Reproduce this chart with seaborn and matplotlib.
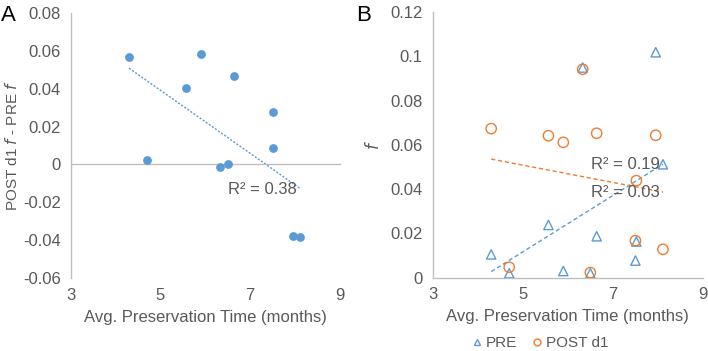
import numpy as np
import pandas as pd
import matplotlib
matplotlib.use("Agg")
import matplotlib.pyplot as plt
import seaborn as sns
from matplotlib.lines import Line2D

# 데이터
months = [4.30, 4.70, 5.57, 5.90, 6.33, 6.50, 6.64, 7.52, 7.50, 7.95, 8.11]
pre_f = [0.0105, 0.0020, 0.0238, 0.0030, 0.0949, 0.0020, 0.0187, 0.0163, 0.0077, 0.1018, 0.0512]
post_f = [0.0673, 0.0047, 0.0641, 0.0611, 0.0941, 0.0023, 0.0652, 0.0438, 0.0167, 0.0643, 0.0128]
diff_f = [0.0570, 0.0024, 0.0402, 0.0582, -0.0011, 0.0003, 0.0466, 0.0276, 0.0089, -0.0376, -0.0385]
r2_a = ["R² = 0.38"]
r2_b = ["R² = 0.19", "R² = 0.03"]

BLUE = "#5B9BD5"
ORANGE = "#ED7D31"
GRAY = "#BFBFBF"
TXT = "#595959"

sns.set_style("white")
plt.rcParams["font.family"] = ["Liberation Sans", "DejaVu Sans"]
plt.rcParams["font.size"] = 12

df_a = pd.DataFrame({"months": months, "diff": diff_f})
df_b = pd.DataFrame({"months": months, "PRE": pre_f, "POST d1": post_f})

fig = plt.figure(figsize=(7.08, 3.51), dpi=100)
ax_a = fig.add_axes([0.100, 0.208, 0.380, 0.755])
ax_b = fig.add_axes([0.611, 0.209, 0.382, 0.757])


def style_axis(ax):
    for s in ["top", "right"]:
        ax.spines[s].set_visible(False)
    for s in ["left", "bottom"]:
        ax.spines[s].set_color(GRAY)
        ax.spines[s].set_linewidth(1)
    ax.tick_params(axis="both", colors=GRAY, labelcolor=TXT, labelsize=12,
                   length=4, width=1, direction="out", pad=3)
    ax.set_xlim(3, 9)
    ax.set_xticks([3, 5, 7, 9])
    ax.set_xlabel("Avg. Preservation Time (months)", color=TXT, fontsize=12, labelpad=5)


# ---- Panel A ----
sns.scatterplot(data=df_a, x="months", y="diff", ax=ax_a, color=BLUE, s=40,
                edgecolor=BLUE, linewidth=0, zorder=3)
sns.regplot(data=df_a, x="months", y="diff", ax=ax_a, scatter=False, ci=None,
            color=BLUE, line_kws={"lw": 1, "ls": (0, (1.5, 1.2))})
style_axis(ax_a)
ax_a.set_ylim(-0.06, 0.08)
ax_a.set_yticks(np.arange(-0.06, 0.081, 0.02))
ax_a.set_yticklabels(["-0.06", "-0.04", "-0.02", "0", "0.02", "0.04", "0.06", "0.08"])
ax_a.spines["bottom"].set_position(("data", 0))
ax_a.tick_params(axis="x", labelbottom=False)
sec = ax_a.secondary_xaxis("bottom")
sec.set_xticks([3, 5, 7, 9])
sec.spines["bottom"].set_visible(False)
sec.tick_params(axis="x", length=0, labelcolor=TXT, labelsize=12, pad=7)
ax_a.set_xlabel("")
sec.set_xlabel("Avg. Preservation Time (months)", color=TXT, fontsize=12, labelpad=5)
ax_a.set_ylabel("POST d1 $\\mathit{f}$ - PRE $\\mathit{f}$", color=TXT, fontsize=11, labelpad=2)
ax_a.text(6.51, -0.0132, r2_a[0], color=TXT, fontsize=12, va="center", ha="left")

# ---- Panel B ----
sns.scatterplot(data=df_b, x="months", y="PRE", ax=ax_b, marker="^", s=45,
                facecolor="none", edgecolor=BLUE, linewidth=1, zorder=3)
sns.scatterplot(data=df_b, x="months", y="POST d1", ax=ax_b, marker="o", s=55,
                facecolor="none", edgecolor=ORANGE, linewidth=1, zorder=3)
sns.regplot(data=df_b, x="months", y="PRE", ax=ax_b, scatter=False, ci=None,
            color=BLUE, line_kws={"lw": 1, "ls": (0, (3, 2))})
sns.regplot(data=df_b, x="months", y="POST d1", ax=ax_b, scatter=False, ci=None,
            color=ORANGE, line_kws={"lw": 1, "ls": (0, (3, 2))})
style_axis(ax_b)
ax_b.set_ylim(0, 0.12)
ax_b.set_yticks(np.arange(0, 0.121, 0.02))
ax_b.set_yticklabels(["0", "0.02", "0.04", "0.06", "0.08", "0.1", "0.12"])
ax_b.set_ylabel("$\\mathit{f}$", color=TXT, fontsize=12, labelpad=6)
ax_b.text(6.51, 0.0512, r2_b[0], color=TXT, fontsize=12, va="center", ha="left")
ax_b.text(6.51, 0.0384, r2_b[1], color=TXT, fontsize=12, va="center", ha="left")

handles = [
    Line2D([], [], marker="^", ls="none", mfc="none", mec=BLUE, ms=5, mew=1),
    Line2D([], [], marker="o", ls="none", mfc="none", mec=ORANGE, ms=5, mew=1),
]
leg = fig.legend(handles, ["PRE", "POST d1"], loc="center", bbox_to_anchor=(0.763, 0.022),
                 ncol=2, frameon=False, fontsize=11, handlelength=0.6, handletextpad=0.3,
                 columnspacing=1.0, labelcolor=TXT)

fig.text(0.002, 0.985, "A", fontsize=16, color="black", va="top", ha="left")
fig.text(0.503, 0.985, "B", fontsize=16, color="black", va="top", ha="left")

fig.savefig("out.png", dpi=100)
